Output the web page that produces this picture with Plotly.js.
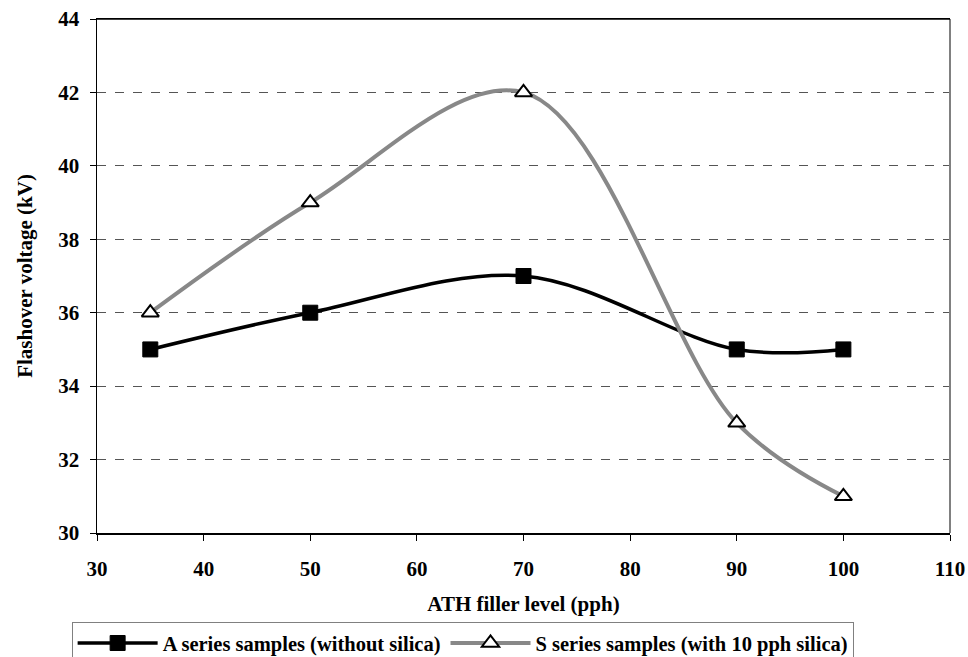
<!DOCTYPE html>
<html>
<head>
<meta charset="utf-8">
<script src="https://cdn.plot.ly/plotly-3.0.1.min.js"></script>
<style>html,body{margin:0;padding:0;background:#fff;}#chart{width:968px;height:657px;}</style>
</head>
<body>
<div id="chart"></div>
<script>
const fillerLevel = [35, 50, 70, 90, 100];
const aSeries = [35, 36, 37, 35, 35];
const sSeries = [36, 39, 42, 33, 31];
const xTicks = [30, 40, 50, 60, 70, 80, 90, 100, 110];
const yTicks = [30, 32, 34, 36, 38, 40, 42, 44];
const nameA = 'A series samples (without silica)';
const nameS = 'S series samples (with 10 pph silica)';

const FAM = 'Liberation Serif, Times New Roman, serif';
function f(size) { return {family: FAM, size: size, color: '#000', weight: 700}; }

const traces = [
  {
    x: fillerLevel, y: aSeries, name: nameA, type: 'scatter', mode: 'lines+markers',
    line: {color: '#000', width: 3.5, shape: 'spline', smoothing: 1},
    marker: {symbol: 'square', size: 15, color: '#000', line: {color: '#000', width: 1}}
  },
  {
    x: fillerLevel, y: sSeries, name: nameS, type: 'scatter', mode: 'lines+markers',
    line: {color: '#888', width: 4, shape: 'spline', smoothing: 1},
    marker: {symbol: 'triangle-up', size: 15, color: '#fff', line: {color: '#000', width: 2}}
  }
];

const layout = {
  width: 968, height: 657,
  margin: {l: 97, r: 18, t: 19, b: 124},
  paper_bgcolor: '#fff', plot_bgcolor: '#fff',
  font: f(20),
  showlegend: true,
  legend: {
    orientation: 'h', xref: 'container', yref: 'container',
    x: 0.074, xanchor: 'left', y: 0.053, yanchor: 'top',
    bordercolor: '#808080', borderwidth: 1, bgcolor: '#fff',
    itemwidth: 80, traceorder: 'normal',
    font: f(20.5)
  },
  xaxis: {
    range: [30, 110], tickvals: xTicks, ticktext: xTicks.map(String),
    showgrid: false, zeroline: false,
    showline: true, linecolor: '#000', linewidth: 1.5, mirror: true,
    ticks: 'outside', ticklen: 6, tickcolor: '#000', tickwidth: 1,
    ticklabelstandoff: 10,
    tickfont: f(21),
    title: {text: 'ATH filler level (pph)', font: f(21), standoff: 16}
  },
  yaxis: {
    range: [30, 44], tickvals: yTicks, ticktext: yTicks.map(String),
    showgrid: true, gridcolor: '#555', griddash: 'dash', gridwidth: 1,
    zeroline: false,
    showline: true, linecolor: '#000', linewidth: 1.5,
    ticks: 'outside', ticklen: 6, tickcolor: '#000', tickwidth: 1,
    ticklabelstandoff: 6,
    tickfont: f(21),
    title: {text: 'Flashover voltage (kV)', font: f(21), standoff: 20}
  },
  shapes: [
    {type: 'line', xref: 'paper', yref: 'paper', x0: 1, x1: 1, y0: 0, y1: 1, line: {color: '#808080', width: 2}},
    {type: 'line', xref: 'paper', yref: 'paper', x0: 0, x1: 1, y0: 1, y1: 1, line: {color: '#000', width: 1.5}}
  ]
};

Plotly.newPlot('chart', traces, layout, {displayModeBar: false, staticPlot: true});
</script>
</body>
</html>
